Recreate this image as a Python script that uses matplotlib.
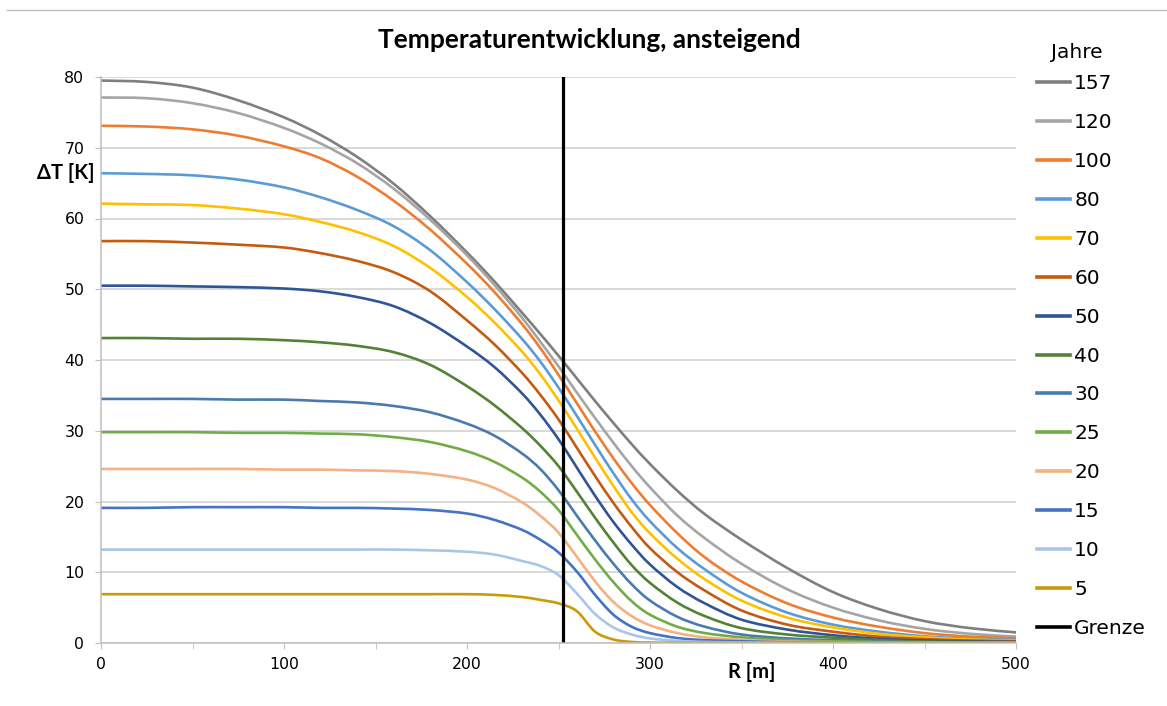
import matplotlib
matplotlib.use("Agg")
import matplotlib.pyplot as plt
from matplotlib.lines import Line2D
from matplotlib.path import Path
from matplotlib.patches import PathPatch
from matplotlib.ticker import MultipleLocator

# --------------------------
# Daten
# --------------------------
radius = [0, 25, 50, 75, 100, 120, 140, 160, 180, 200, 215, 230, 240, 250,
          260, 270, 280, 290, 300, 315, 330, 350, 375, 400, 425, 450, 475, 500]

dt_157 = [79.5, 79.3, 78.5, 76.7, 74.3, 71.8, 68.7, 64.9, 60.3, 55.2, 51.1, 46.7, 43.7, 40.6,
          37.4, 34.2, 31.1, 28.1, 25.3, 21.5, 18.2, 14.6, 10.6, 7.2, 4.8, 3.1, 2.1, 1.5]
dt_120 = [77.1, 77.0, 76.3, 74.9, 72.8, 70.6, 67.8, 64.2, 59.8, 54.8, 50.6, 46.0, 42.6, 39.1,
          35.4, 31.8, 28.3, 25.0, 22.0, 18.0, 14.8, 11.2, 7.6, 5.0, 3.2, 2.0, 1.3, 0.9]
dt_100 = [73.1, 73.0, 72.6, 71.7, 70.2, 68.5, 65.9, 62.5, 58.4, 53.6, 49.6, 45.1, 41.7, 37.9,
          33.9, 29.9, 26.1, 22.6, 19.5, 15.5, 12.1, 8.7, 5.6, 3.6, 2.3, 1.4, 0.9, 0.7]
dt_80 = [66.4, 66.3, 66.1, 65.5, 64.4, 63.0, 61.2, 58.9, 55.5, 51.0, 47.2, 43.0, 39.8, 36.1,
         32.1, 28.0, 24.0, 20.3, 17.2, 13.4, 10.4, 7.1, 4.3, 2.6, 1.6, 0.95, 0.6, 0.45]
dt_70 = [62.1, 62.0, 61.9, 61.4, 60.6, 59.5, 58.1, 56.1, 53.0, 48.9, 45.3, 41.2, 38.0, 34.3,
         30.3, 26.2, 22.2, 18.5, 15.5, 11.9, 9.0, 6.0, 3.6, 2.2, 1.3, 0.8, 0.5, 0.35]
dt_60 = [56.8, 56.8, 56.6, 56.3, 55.9, 55.1, 54.0, 52.4, 49.7, 45.6, 42.2, 38.2, 35.1, 31.6,
         27.6, 23.6, 19.8, 16.4, 13.4, 10.0, 7.4, 4.6, 2.6, 1.6, 0.9, 0.55, 0.35, 0.25]
dt_50 = [50.5, 50.5, 50.4, 50.3, 50.1, 49.7, 48.9, 47.6, 45.2, 41.9, 39.0, 35.3, 32.3, 28.8,
         24.8, 20.8, 17.1, 13.9, 11.1, 7.9, 5.6, 3.3, 1.9, 1.1, 0.6, 0.35, 0.22, 0.15]
dt_40 = [43.1, 43.1, 43.0, 43.0, 42.8, 42.5, 42.0, 41.1, 39.3, 36.3, 33.6, 30.4, 27.9, 25.0,
         21.4, 17.7, 14.2, 11.0, 8.5, 5.7, 3.8, 2.1, 1.2, 0.75, 0.4, 0.22, 0.12, 0.08]
dt_30 = [34.5, 34.5, 34.5, 34.4, 34.4, 34.2, 34.0, 33.5, 32.6, 31.0, 29.3, 26.8, 24.6, 21.6,
         18.0, 14.5, 11.2, 8.3, 6.0, 3.7, 2.3, 1.2, 0.65, 0.4, 0.22, 0.12, 0.08, 0.05]
dt_25 = [29.8, 29.8, 29.8, 29.7, 29.7, 29.6, 29.5, 29.1, 28.4, 27.1, 25.6, 23.4, 21.4, 18.8,
         15.3, 11.8, 8.6, 5.9, 4.0, 2.3, 1.4, 0.8, 0.4, 0.25, 0.15, 0.1, 0.06, 0.04]
dt_20 = [24.6, 24.6, 24.6, 24.6, 24.5, 24.5, 24.4, 24.3, 23.9, 23.1, 21.9, 19.9, 18.0, 15.6,
         12.2, 8.7, 5.8, 3.8, 2.5, 1.4, 0.8, 0.45, 0.2, 0.12, 0.08, 0.05, 0.03, 0.02]
dt_15 = [19.1, 19.1, 19.2, 19.2, 19.2, 19.1, 19.1, 19.0, 18.8, 18.3, 17.4, 16.0, 14.6, 12.8,
         10.1, 6.8, 4.0, 2.3, 1.4, 0.7, 0.4, 0.25, 0.1, 0.06, 0.04, 0.03, 0.02, 0.01]
dt_10 = [13.2, 13.2, 13.2, 13.2, 13.2, 13.2, 13.2, 13.2, 13.1, 12.9, 12.5, 11.6, 10.9, 9.6,
         7.0, 4.1, 2.2, 1.2, 0.65, 0.3, 0.15, 0.08, 0.04, 0.02, 0.01, 0.01, 0.0, 0.0]
dt_5 = [6.9, 6.9, 6.9, 6.9, 6.9, 6.9, 6.9, 6.9, 6.9, 6.9, 6.8, 6.5, 6.1, 5.6,
        4.5, 1.6, 0.5, 0.15, 0.06, 0.03, 0.02, 0.01, 0.0, 0.0, 0.0, 0.0, 0.0, 0.0]

jahre = ["157", "120", "100", "80", "70", "60", "50", "40", "30", "25", "20", "15", "10", "5"]
kurven = [dt_157, dt_120, dt_100, dt_80, dt_70, dt_60, dt_50, dt_40,
          dt_30, dt_25, dt_20, dt_15, dt_10, dt_5]
farben = ["#7f7f7f", "#a5a5a5", "#ed7d31", "#5b9bd5", "#ffc000", "#c55a11", "#2f5597",
          "#548235", "#4a7ab0", "#70ad47", "#f4b183", "#4472c4", "#a9c6e8", "#cc9a06"]

grenze_r = [252.5, 252.5]
grenze_dt = [0, 80]

GRID = "#cfcfcf"
AXIS = "#bfbfbf"


def glatte_linie(xs, ys):
    # geglaettete Linie wie in Excel (Bezier durch die Messpunkte)
    pts = list(zip(xs, ys))
    verts = [pts[0]]
    codes = [Path.MOVETO]
    for i in range(len(pts) - 1):
        p0 = pts[i - 1] if i > 0 else pts[i]
        p1 = pts[i]
        p2 = pts[i + 1]
        p3 = pts[i + 2] if i + 2 < len(pts) else pts[i + 1]
        c1 = (p1[0] + (p2[0] - p0[0]) / 6, p1[1] + (p2[1] - p0[1]) / 6)
        c2 = (p2[0] - (p3[0] - p1[0]) / 6, p2[1] - (p3[1] - p1[1]) / 6)
        verts += [c1, c2, p2]
        codes += [Path.CURVE4] * 3
    return Path(verts, codes)


# --------------------------
# Figur
# --------------------------
fig = plt.figure(figsize=(11.67, 7.06), dpi=100)
ax = fig.add_axes([101 / 1167, 1 - 643 / 706, 915 / 1167, 566 / 706])

handles = []
for lab, dt, col in zip(jahre, kurven, farben):
    ax.add_patch(PathPatch(glatte_linie(radius, dt), facecolor="none", edgecolor=col,
                           linewidth=1.9, capstyle="round", joinstyle="round"))
    handles.append(Line2D([], [], color=col, linewidth=2.6, label=lab))
ax.plot(grenze_r, grenze_dt, color="black", linewidth=2.3)
handles.append(Line2D([], [], color="black", linewidth=2.6, label="Grenze"))

ax.set_xlim(0, 500)
ax.set_ylim(0, 80)
ax.xaxis.set_major_locator(MultipleLocator(100))
ax.xaxis.set_minor_locator(MultipleLocator(50))
ax.yaxis.set_major_locator(MultipleLocator(10))
ax.grid(axis="y", color=GRID, linewidth=1.1)
ax.set_axisbelow(True)

for s in ["top", "right"]:
    ax.spines[s].set_visible(False)
for s in ["left", "bottom"]:
    ax.spines[s].set_color(AXIS)
    ax.spines[s].set_linewidth(1.1)

ax.tick_params(axis="x", which="both", direction="out", length=4, color=AXIS,
               labelsize=11.3, pad=6)
ax.tick_params(axis="y", direction="out", length=4, color=AXIS, labelsize=11.3, pad=8)

# Titel + Achsentitel
fig.text(589 / 1167, 1 - 40 / 706, "Temperaturentwicklung, ansteigend",
         family="Lato", weight="bold", fontsize=19, ha="center", va="center")
fig.text(66 / 1167, 1 - 173 / 706, "\u0394T [K]", family="Lato", weight="bold",
         fontsize=14.5, ha="center", va="center")
fig.text(752 / 1167, 1 - 672 / 706, "R [m]", family="Lato", weight="bold",
         fontsize=14.5, ha="center", va="center")

# Legende
fig.text(1077 / 1167, 1 - 52 / 706, "Jahre", fontsize=14.5, ha="center", va="center")
leg = ax.legend(handles=handles, loc="upper left", bbox_to_anchor=(1037 / 1167, 1 - 74 / 706),
                bbox_transform=fig.transFigure, frameon=False, fontsize=14.5,
                handlelength=1.65, handletextpad=0.2,
                labelspacing=0.99, borderpad=0, borderaxespad=0)

# Rahmenlinie oben
fig.add_artist(Line2D([7 / 1167, 1], [1 - 10 / 706, 1 - 10 / 706],
                      transform=fig.transFigure, color="#c0c0c0", linewidth=1.0))

fig.savefig("out.png", dpi=100)
